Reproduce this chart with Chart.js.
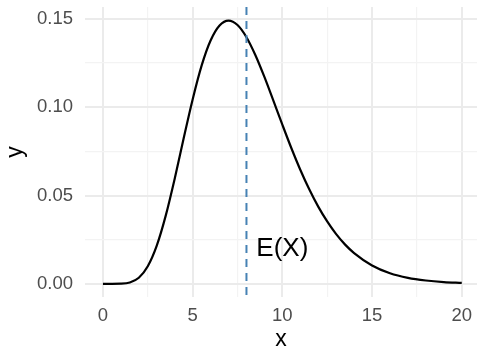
<!DOCTYPE html>
<html>
<head>
<meta charset="utf-8">
<script src="https://cdn.jsdelivr.net/npm/chart.js@4.4.1/dist/chart.umd.min.js"></script>
<style>
  html, body { margin: 0; padding: 0; background: #fff; }
  #wrap { width: 477px; height: 352px; }
</style>
</head>
<body>
<div id="wrap"><canvas id="container" width="477" height="352"></canvas></div>
<script>
let ctx = document.getElementById('container').getContext('2d');

// density curve, x and y
let xs = [0, 0.5, 1, 1.5, 2, 2.5, 3, 3.5, 4, 4.5, 5, 5.5, 6, 6.5, 7, 7.5, 8, 8.5, 9, 9.5,
          10, 10.5, 11, 11.5, 12, 12.5, 13, 13.5, 14, 15, 16, 17, 18, 19, 20];
let ys = [0, 0.000001, 0.000073, 0.000756, 0.00344, 0.00994, 0.0216, 0.0386, 0.0595, 0.0824,
          0.1044, 0.1235, 0.1377, 0.1462, 0.1490, 0.1465, 0.1396, 0.1294, 0.1171, 0.1037,
          0.0901, 0.0769, 0.0646, 0.0535, 0.0437, 0.0353, 0.0281, 0.0222, 0.0174, 0.0104,
          0.0060, 0.0034, 0.0019, 0.0010, 0.0005];

let xTicks = [0, 2.5, 5, 7.5, 10, 12.5, 15, 17.5, 20];
let yTicks = [0, 0.025, 0.05, 0.075, 0.1, 0.125, 0.15];

let meanX = 8;
let meanLabel = 'E(X)';
let meanLabelAt = [10, 0.02];

let points = xs.map((x, i) => ({x: x, y: ys[i]}));

let isMajorX = v => Math.abs(v % 5) < 1e-9;
let isMajorY = v => Math.round(v * 1000) % 50 === 0;

// dashed mean line and its label
let meanLine = {
  id: 'meanLine',
  afterDatasetsDraw(chart) {
    let c = chart.ctx;
    let area = chart.chartArea;
    let sx = chart.scales.x, sy = chart.scales.y;
    let px = sx.getPixelForValue(meanX);
    c.save();
    c.strokeStyle = '#4682B4';
    c.lineWidth = 2;
    c.setLineDash([8, 6]);
    c.beginPath();
    c.moveTo(px, area.top);
    c.lineTo(px, area.bottom);
    c.stroke();
    c.setLineDash([]);
    c.fillStyle = '#000';
    c.font = '26px "Liberation Sans", Arial, sans-serif';
    c.textAlign = 'center';
    c.textBaseline = 'middle';
    c.fillText(meanLabel, sx.getPixelForValue(meanLabelAt[0]), sy.getPixelForValue(meanLabelAt[1]));
    c.restore();
  }
};

let myChart = new Chart(ctx, {
  type: 'line',
  data: {
    datasets: [{
      data: points,
      borderColor: '#000',
      borderWidth: 2.2,
      pointRadius: 0,
      fill: false,
      cubicInterpolationMode: 'monotone'
    }]
  },
  options: {
    responsive: false,
    animation: false,
    layout: { padding: { left: 0, right: 0, top: 7, bottom: 0 } },
    plugins: {
      legend: { display: false },
      tooltip: { enabled: false }
    },
    scales: {
      x: {
        type: 'linear',
        min: -1,
        max: 20.85,
        afterBuildTicks: s => { s.ticks = xTicks.map(v => ({value: v})); },
        afterFit: s => { s.height = 55; s.paddingLeft = 0; s.paddingRight = 0; },
        border: { display: false },
        grid: {
          drawTicks: false,
          color: c => isMajorX(c.tick.value) ? '#ebebeb' : '#f3f3f3',
          lineWidth: c => isMajorX(c.tick.value) ? 2 : 1.2
        },
        ticks: {
          padding: 8,
          color: '#4d4d4d',
          font: { family: '"Liberation Sans", Arial, sans-serif', size: 18.5 },
          callback: v => isMajorX(v) ? String(v) : ''
        },
        title: {
          display: true,
          text: 'x',
          color: '#000',
          padding: { top: 0, bottom: 0 },
          font: { family: '"Liberation Sans", Arial, sans-serif', size: 23, lineHeight: 1.1 }
        }
      },
      y: {
        type: 'linear',
        min: -0.00745,
        max: 0.1567,
        afterBuildTicks: s => { s.ticks = yTicks.map(v => ({value: v})); },
        afterFit: s => { s.width = 85; s.paddingTop = 0; s.paddingBottom = 0; },
        border: { display: false },
        grid: {
          drawTicks: false,
          color: c => isMajorY(c.tick.value) ? '#ebebeb' : '#f3f3f3',
          lineWidth: c => isMajorY(c.tick.value) ? 2 : 1.2
        },
        ticks: {
          padding: 12,
          color: '#4d4d4d',
          font: { family: '"Liberation Sans", Arial, sans-serif', size: 18.5 },
          callback: v => isMajorY(v) ? v.toFixed(2) : ''
        },
        title: {
          display: true,
          text: 'y',
          color: '#000',
          padding: { top: 3, bottom: 0 },
          font: { family: '"Liberation Sans", Arial, sans-serif', size: 23, lineHeight: 1.1 }
        }
      }
    }
  },
  plugins: [meanLine]
});
</script>
</body>
</html>
